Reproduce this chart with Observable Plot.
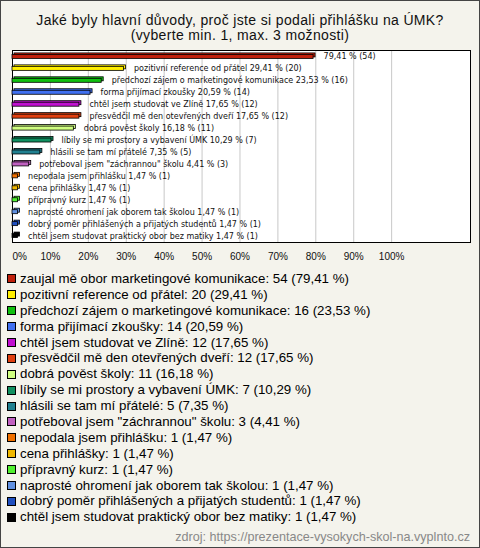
<!DOCTYPE html>
<html><head><meta charset="utf-8">
<script src="https://cdn.jsdelivr.net/npm/d3@7"></script>
<script src="https://cdn.jsdelivr.net/npm/@observablehq/plot@0.6"></script>
<style>
html,body{margin:0;padding:0;}
#wrap{position:relative;width:480px;height:548px;box-sizing:border-box;border:1px solid #444;background:#f4f3ec;font-family:"Liberation Sans",Arial,sans-serif;overflow:hidden;}
#title{position:absolute;left:0;top:12px;width:478px;text-align:center;font-size:14px;letter-spacing:0.35px;line-height:14.5px;color:#111;}
#chart{position:absolute;left:-1px;top:42px;width:480px;}
#chart svg{max-width:none;}
#legend{position:absolute;left:6px;top:270px;}
.row{height:15.9px;line-height:15.9px;font-size:13.3px;color:#000;white-space:nowrap;display:flex;align-items:center;}
.sw{width:7px;height:7px;border:1px solid #000;margin-right:4px;flex:none;}
#src{position:absolute;right:9px;top:529px;font-size:12.6px;color:#888;}
</style></head>
<body><div id="wrap">
<div id="title">Jaké byly hlavní důvody, proč jste si podali přihlášku na ÚMK?<br>(vyberte min. 1, max. 3 možnosti)</div>
<div id="chart"></div>
<div id="legend"></div>
<div id="src">zdroj: https://prezentace-vysokych-skol-na.vyplnto.cz</div>
</div>
<script>
const categories = [
  "zaujal mě obor marketingové komunikace",
  "pozitivní reference od přátel",
  "předchozí zájem o marketingové komunikace",
  "forma přijímací zkoušky",
  "chtěl jsem studovat ve Zlíně",
  "přesvědčil mě den otevřených dveří",
  "dobrá pověst školy",
  "líbily se mi prostory a vybavení ÚMK",
  "hlásili se tam mí přátelé",
  "potřeboval jsem \"záchrannou\" školu",
  "nepodala jsem přihlášku",
  "cena přihlášky",
  "přípravný kurz",
  "naprosté ohromení jak oborem tak školou",
  "dobrý poměr přihlášených a přijatých studentů",
  "chtěl jsem studovat praktický obor bez matiky"
];
const counts = [54, 20, 16, 14, 12, 12, 11, 7, 5, 3, 1, 1, 1, 1, 1, 1];
const percents = [79.41, 29.41, 23.53, 20.59, 17.65, 17.65, 16.18, 10.29, 7.35, 4.41, 1.47, 1.47, 1.47, 1.47, 1.47, 1.47];
const colors = ["#c0200c", "#ffee00", "#10c010", "#4070f0", "#c010d0", "#e04010", "#d0ff80", "#109060", "#208090", "#c060c0", "#f07000", "#f0b800", "#50f030", "#6090e0", "#2050c0", "#000000"];
const tickValues = [0, 10, 20, 30, 40, 50, 60, 70, 80, 90, 100];

const fmt = v => v.toFixed(2).replace(".", ",");
const data = categories.map((c, i) => ({
  cat: c, n: counts[i], p: percents[i], color: colors[i],
  label: (i === 0 ? "" : c + " ") + fmt(percents[i]) + " % (" + counts[i] + ")"
}));

const chart = Plot.plot({
  width: 480, height: 224,
  marginLeft: 12, marginRight: 10, marginTop: 7, marginBottom: 25,
  style: {background: "transparent", fontFamily: "Liberation Sans, Arial, sans-serif", maxWidth: "none"},
  x: {domain: [0, 120.8], axis: null},
  y: {domain: categories, axis: null, paddingInner: 0.665, paddingOuter: 0.37, round: false},
  color: {type: "identity"},
  marks: [
    Plot.frame({fill: "white", stroke: null}),
    Plot.ruleX(tickValues, {stroke: "#c8c8c8", strokeWidth: 1}),
    Plot.frame({stroke: "#000", strokeWidth: 1}),
    Plot.barX(data, {x: "p", y: "cat", fill: "color", stroke: "#000", strokeWidth: 0.8, dx: 2, dy: -1.5}),
    Plot.barX(data, {x: "p", y: "cat", fill: "color", stroke: "#000", strokeWidth: 0.8}),
    Plot.text(data, {x: "p", y: "cat", text: "label", textAnchor: "start", dx: 10, fontSize: 8, fontFamily: "DejaVu Sans", fill: "#111"}),
    Plot.axisX({ticks: tickValues.filter(t => t > 0), tickFormat: d => d + "%", tickSize: 0, tickPadding: 10, fontSize: 10, label: null, color: "#111"}),
    Plot.axisX({ticks: [0], tickFormat: d => d + "%", tickSize: 0, tickPadding: 10, fontSize: 10, textAnchor: "start", label: null, color: "#111"})
  ]
});
document.getElementById("chart").appendChild(chart);

const leg = document.getElementById("legend");
data.forEach(d => {
  const r = document.createElement("div");
  r.className = "row";
  const s = document.createElement("span");
  s.className = "sw";
  s.style.background = d.color;
  r.appendChild(s);
  const tx = document.createElement("span");
  tx.textContent = d.cat + ": " + d.n + " (" + fmt(d.p) + " %)";
  r.appendChild(tx);
  leg.appendChild(r);
});
</script>
</body></html>
